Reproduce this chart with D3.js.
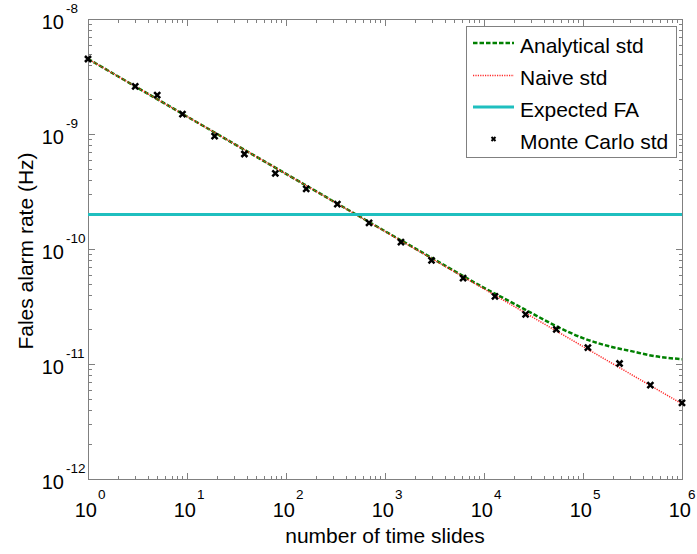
<!DOCTYPE html>
<html><head><meta charset="utf-8">
<script src="https://cdn.jsdelivr.net/npm/d3@7"></script>
<style>
html,body{margin:0;padding:0;background:#fff;}
svg{display:block;font-family:"Liberation Sans",Arial,sans-serif;}
</style></head>
<body><svg id="c" width="697" height="554"></svg>
<script>
// ---- data ----
const xMajorExp = [0,1,2,3,4,5,6];
const yMajorExp = [-12,-11,-10,-9,-8];

const analyticalN   = [1, 10, 100, 1000, 3000, 10000, 20000, 30000, 50000, 100000, 200000, 300000, 500000, 1000000];
const analyticalStd = [4.5e-9, 1.42e-9, 4.5e-10, 1.43e-10, 8.3e-11, 4.6e-11, 3.35e-11, 2.78e-11, 2.2e-11, 1.68e-11, 1.4e-11, 1.3e-11, 1.18e-11, 1.1e-11];

const naiveN   = [1, 10, 100, 1000, 10000, 100000, 1000000];
const naiveStd = [4.5e-9, 1.42e-9, 4.5e-10, 1.42e-10, 4.5e-11, 1.42e-11, 4.5e-12];

const expectedFA = 2e-10;

const mcN   = [1, 3, 5, 9, 19, 38, 78, 160, 330, 690, 1450, 2950, 6150, 12900, 26300, 53700, 112000, 234000, 479000, 1000000];
const mcStd = [4.49e-9, 2.60e-9, 2.18e-9, 1.49e-9, 9.6e-10, 6.7e-10, 4.55e-10, 3.34e-10, 2.46e-10, 1.69e-10, 1.15e-10, 7.97e-11, 5.59e-11, 3.87e-11, 2.70e-11, 2.00e-11, 1.39e-11, 1.01e-11, 6.56e-12, 4.60e-12];

const legendLabels = ["Analytical std", "Naive std", "Expected FA", "Monte Carlo std"];
const xLabel = "number of time slides";
const yLabel = "Fales alarm rate (Hz)";

// ---- layout ----
const W = 697;
const L = 88, R = 682, T = 19, B = 479;
const svg = d3.select("#c");
const x = d3.scaleLog().domain([1, 1e6]).range([L, R]);
const y = d3.scaleLog().domain([1e-12, 1e-8]).range([B, T]);

const gray = "#808080";
function minorVals(lo, hi) {
  const out = [];
  for (let e = lo; e < hi; e++) for (let m = 2; m <= 9; m++) out.push(m * Math.pow(10, e));
  return out;
}
const xMaj = xMajorExp.map(e => Math.pow(10, e));
const yMaj = yMajorExp.map(e => Math.pow(10, e));
const xMin = minorVals(0, 6);
const yMin = minorVals(-12, -8);

function axisG(axis, tr) {
  const g = svg.append("g").attr("transform", tr).call(axis);
  g.select(".domain").remove();
  g.selectAll("line").attr("stroke", gray).attr("stroke-width", 1).attr("shape-rendering", "crispEdges");
  g.selectAll("text").remove();
  return g;
}
const MJ = 6.5, MN = 3.5;
axisG(d3.axisBottom(x).tickValues(xMaj).tickSize(-MJ).tickFormat(""), `translate(0,${B})`);
axisG(d3.axisBottom(x).tickValues(xMin).tickSize(-MN).tickFormat(""), `translate(0,${B})`);
axisG(d3.axisTop(x).tickValues(xMaj).tickSize(-MJ).tickFormat(""), `translate(0,${T})`);
axisG(d3.axisTop(x).tickValues(xMin).tickSize(-MN).tickFormat(""), `translate(0,${T})`);
axisG(d3.axisLeft(y).tickValues(yMaj).tickSize(-MJ).tickFormat(""), `translate(${L},0)`);
axisG(d3.axisLeft(y).tickValues(yMin).tickSize(-MN).tickFormat(""), `translate(${L},0)`);
axisG(d3.axisRight(y).tickValues(yMaj).tickSize(-MJ).tickFormat(""), `translate(${R},0)`);
axisG(d3.axisRight(y).tickValues(yMin).tickSize(-MN).tickFormat(""), `translate(${R},0)`);

svg.append("rect").attr("x", L + 0.5).attr("y", T + 0.5).attr("width", R - L).attr("height", B - T)
  .attr("fill", "none").attr("stroke", gray).attr("stroke-width", 1);

// tick labels
xMajorExp.forEach(e => {
  const px = x(Math.pow(10, e));
  svg.append("text").attr("x", px + 9).attr("y", 517).attr("text-anchor", "end")
    .attr("font-size", 20).attr("fill", "#000").text("10");
  svg.append("text").attr("x", Math.min(px + 10, W - 9)).attr("y", 499).attr("text-anchor", "start")
    .attr("font-size", 13.5).attr("fill", "#000").text(String(e));
});
yMajorExp.forEach(e => {
  const py = y(Math.pow(10, e));
  svg.append("text").attr("x", 64).attr("y", py + 10).attr("text-anchor", "end")
    .attr("font-size", 20).attr("fill", "#000").text("10");
  svg.append("text").attr("x", 66).attr("y", py - 6).attr("text-anchor", "start")
    .attr("font-size", 13.5).attr("fill", "#000").text(String(e));
});

// axis titles
svg.append("text").attr("x", (L + R) / 2).attr("y", 543).attr("text-anchor", "middle")
  .attr("font-size", 21).text(xLabel);
svg.append("text").attr("transform", `translate(33,${(T + B) / 2 + 2}) rotate(-90)`)
  .attr("text-anchor", "middle").attr("font-size", 21).text(yLabel);

svg.append("clipPath").attr("id", "pc").append("rect").attr("x", L).attr("y", T).attr("width", R - L + 1).attr("height", B - T);
const plot = svg.append("g").attr("clip-path", "url(#pc)");

const styles = {
  analytical: {stroke: "#008000", width: 2.5, dash: "4.5,2"},
  naive: {stroke: "#ff2a2a", width: 1.5, dash: "1.2,1.2"},
  expected: {stroke: "#1fbfbf", width: 3, dash: null},
};

const line = d3.line().x(d => x(d[0])).y(d => y(d[1])).curve(d3.curveMonotoneX);
plot.append("path").datum(analyticalN.map((n, i) => [n, analyticalStd[i]]))
  .attr("d", line).attr("fill", "none").attr("stroke", styles.analytical.stroke)
  .attr("stroke-width", styles.analytical.width).attr("stroke-dasharray", styles.analytical.dash);
plot.append("path").datum(naiveN.map((n, i) => [n, naiveStd[i]]))
  .attr("d", d3.line().x(d => x(d[0])).y(d => y(d[1]))).attr("fill", "none").attr("stroke", styles.naive.stroke)
  .attr("stroke-width", styles.naive.width).attr("stroke-dasharray", styles.naive.dash);
plot.append("line").attr("x1", x(1)).attr("x2", x(1e6)).attr("y1", y(expectedFA)).attr("y2", y(expectedFA))
  .attr("stroke", styles.expected.stroke).attr("stroke-width", styles.expected.width);

function cross(g, cx, cy, r, w) {
  g.append("path").attr("d", `M${cx - r},${cy - r}L${cx + r},${cy + r}M${cx - r},${cy + r}L${cx + r},${cy - r}`)
    .attr("stroke", "#000").attr("stroke-width", w).attr("fill", "none");
}
const mg = svg.append("g");
mcN.forEach((n, i) => cross(mg, x(n), y(mcStd[i]), 3, 2.5));

// legend
const lg = svg.append("g");
lg.append("rect").attr("x", 466.5).attr("y", 26.5).attr("width", 210).attr("height", 131)
  .attr("fill", "#fff").attr("stroke", gray).attr("stroke-width", 1);
const rowY = [43, 75.5, 107, 139];
const x1 = 473, x2 = 514;
lg.append("line").attr("x1", x1).attr("x2", x2).attr("y1", rowY[0]).attr("y2", rowY[0])
  .attr("stroke", styles.analytical.stroke).attr("stroke-width", styles.analytical.width).attr("stroke-dasharray", styles.analytical.dash);
lg.append("line").attr("x1", x1).attr("x2", x2).attr("y1", rowY[1]).attr("y2", rowY[1])
  .attr("stroke", styles.naive.stroke).attr("stroke-width", styles.naive.width).attr("stroke-dasharray", styles.naive.dash);
lg.append("line").attr("x1", x1).attr("x2", x2).attr("y1", rowY[2]).attr("y2", rowY[2])
  .attr("stroke", styles.expected.stroke).attr("stroke-width", styles.expected.width);
cross(lg, (x1 + x2) / 2, rowY[3], 2, 2);
legendLabels.forEach((t, i) => {
  lg.append("text").attr("x", 520).attr("y", rowY[i] + 9.5).attr("font-size", 21).attr("fill", "#000").text(t);
});
</script></body></html>
